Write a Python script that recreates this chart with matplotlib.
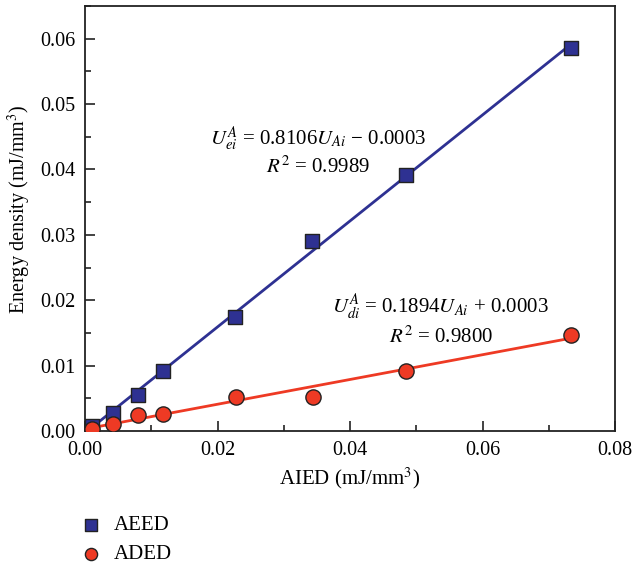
import numpy as np
import matplotlib.pyplot as plt
from matplotlib.ticker import MultipleLocator

plt.rcParams["font.family"] = ["Liberation Serif", "DejaVu Serif"]
plt.rcParams["mathtext.fontset"] = "stix"

# AEED / ADED data (mJ/mm^3)
aied = [0.0010, 0.0042, 0.0080, 0.0118, 0.0226, 0.0343, 0.0485, 0.0734]
aeed = [0.0008, 0.0027, 0.0055, 0.0091, 0.0174, 0.0290, 0.0392, 0.0586]
aded_x = [0.0010, 0.0042, 0.0080, 0.0118, 0.0228, 0.0344, 0.0485, 0.0734]
aded = [0.0003, 0.0011, 0.0024, 0.0026, 0.0052, 0.0052, 0.0091, 0.0147]

# fit coefficients (slope, intercept)
fit_e = (0.8106, -0.0003)
fit_d = (0.1894, 0.0003)

blue = "#2E3192"
red = "#EE3A24"

fig = plt.figure(figsize=(6.33, 5.67), dpi=100)
ax = fig.add_axes([0.1343, 0.2399, 0.8373, 0.7495])

xf = np.array([aied[0], aied[-1]])
ax.plot(xf, fit_e[0] * xf + fit_e[1], color=blue, lw=2, zorder=2)
ax.plot(xf, fit_d[0] * xf + fit_d[1], color=red, lw=2, zorder=2)

ax.scatter(aied, aeed, marker="s", s=110, color=blue, edgecolor="#222222",
           linewidth=1, zorder=3, label="AEED")
ax.scatter(aded_x, aded, marker="o", s=120, color=red, edgecolor="#222222",
           linewidth=1, zorder=3, label="ADED")

ax.set_xlim(0, 0.08)
ax.set_ylim(0, 0.065)
ax.xaxis.set_major_locator(MultipleLocator(0.02))
ax.xaxis.set_minor_locator(MultipleLocator(0.01))
ax.yaxis.set_major_locator(MultipleLocator(0.01))
ax.yaxis.set_minor_locator(MultipleLocator(0.005))
ax.xaxis.set_major_formatter(plt.FuncFormatter(lambda v, p: f"{v:.2f}"))
ax.yaxis.set_major_formatter(plt.FuncFormatter(lambda v, p: f"{v:.2f}"))
ax.tick_params(which="both", direction="in", labelsize=14.5, color="#222222")
ax.tick_params(which="major", length=7, width=1.2, pad=7)
ax.tick_params(which="minor", length=4, width=1.2)
for s in ax.spines.values():
    s.set_linewidth(1.3)
    s.set_color("#222222")

ax.set_xlabel("AIED (mJ/mm$^3$)", fontsize=15, labelpad=4)
fig.text(19 / 633, 1 - 209 / 567, "Energy density (mJ/mm$^3$)", fontsize=14.5,
         rotation=90, ha="center", va="center")

ax.text(0.0352, 0.0447, r"$U_{ei}^{A}$ = 0.8106$U_{Ai}$ − 0.0003", fontsize=15, ha="center", va="center")
ax.text(0.0352, 0.0403, r"$R^2$ = 0.9989", fontsize=15, ha="center", va="center")
ax.text(0.0537, 0.0189, r"$U_{di}^{A}$ = 0.1894$U_{Ai}$ + 0.0003", fontsize=15, ha="center", va="center")
ax.text(0.0537, 0.0143, r"$R^2$ = 0.9800", fontsize=15, ha="center", va="center")

ax.legend(loc="upper left", bbox_to_anchor=(-0.047, -0.155), frameon=False,
          fontsize=15, handletextpad=0.5, labelspacing=0.45, markerscale=0.8,
          handlelength=1.2)

fig.savefig("out.png", dpi=100)
